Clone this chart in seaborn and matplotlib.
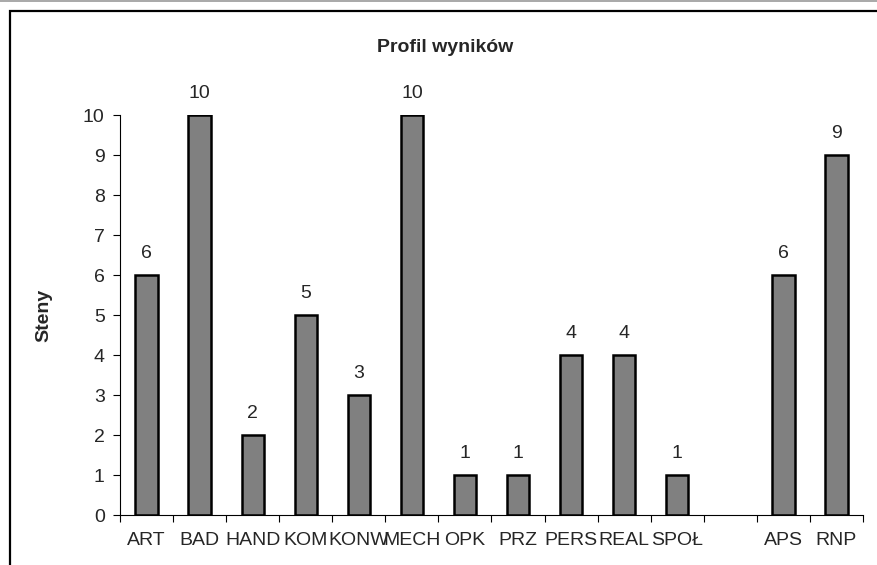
import pandas as pd
import numpy as np
import matplotlib.pyplot as plt
import matplotlib.patches as mpatches
import matplotlib.lines as mlines
import seaborn as sns

# Dane wykresu
kategorie = ['ART', 'BAD', 'HAND', 'KOM', 'KONW', 'MECH', 'OPK', 'PRZ', 'PERS', 'REAL', 'SPOŁ', ' ', 'APS', 'RNP']
steny = [6, 10, 2, 5, 3, 10, 1, 1, 4, 4, 1, np.nan, 6, 9]
y_ticks = list(range(0, 11))

sns.set_theme(style="white")
plt.rcParams['font.family'] = ['Liberation Sans', 'DejaVu Sans']

df = pd.DataFrame({'Kategoria': kategorie, 'Steny': steny})

fig = plt.figure(figsize=(8.78, 5.65), dpi=100)
ax = fig.add_axes([120 / 878, 1 - 515 / 565, 743 / 878, 400 / 565])

sns.barplot(data=df, x='Kategoria', y='Steny', order=kategorie, color='#808080',
            saturation=1, width=0.42, edgecolor='black', linewidth=1.8, ax=ax)

for cont in ax.containers:
    labels = ['' if np.isnan(v) else f'{int(v)}' for v in cont.datavalues]
    ax.bar_label(cont, labels=labels, padding=9, fontsize=14)

ax.set_ylim(0, 10)
ax.set_xlim(-0.5, len(kategorie) - 0.5)
ax.set_yticks(y_ticks)
ax.set_xticks(range(len(kategorie)))
ax.set_xticklabels(kategorie)
ax.set_xticks(np.arange(-0.5, len(kategorie)), minor=True)
ax.tick_params(axis='x', which='major', length=0, pad=12, labelsize=14)
ax.tick_params(axis='x', which='minor', length=5, width=0.8, color='black', direction='out', bottom=True)
ax.tick_params(axis='y', length=5, width=0.8, color='black', direction='out', left=True, labelsize=14, pad=6)

for s in ['top', 'right']:
    ax.spines[s].set_visible(False)
for s in ['left', 'bottom']:
    ax.spines[s].set_color('black')
    ax.spines[s].set_linewidth(0.8)

ax.set_xlabel('')
ax.set_ylabel('Steny', fontsize=14, fontweight='bold', labelpad=22)
fig.text(445 / 878, 1 - 47 / 565, 'Profil wyników', ha='center', va='center',
         fontsize=14, fontweight='bold')

# Ramka wykresu (przycięta z prawej i od dołu)
fig.patches.append(mpatches.Rectangle((10 / 878, -0.1), 1.2, 1 - 11 / 565 + 0.1,
                                      transform=fig.transFigure, fill=False,
                                      edgecolor='black', linewidth=1.6))
fig.lines.append(mlines.Line2D([0, 1], [1 - 1 / 565, 1 - 1 / 565], transform=fig.transFigure,
                               color='#999999', linewidth=1.2))

fig.savefig('out.png', dpi=100)
